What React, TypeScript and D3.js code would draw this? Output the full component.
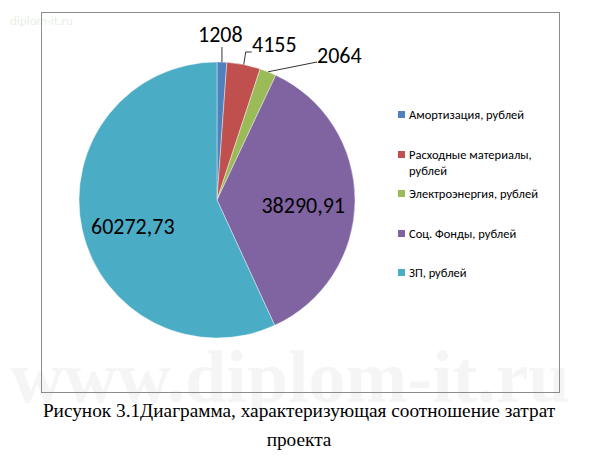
import * as d3 from "d3";
import { useEffect, useRef } from "react";

const categories = [
  "Амортизация, рублей",
  "Расходные материалы, рублей",
  "Электроэнергия, рублей",
  "Соц. Фонды, рублей",
  "ЗП, рублей",
];
const values = [1208, 4155, 2064, 38290.91, 60272.73];
const valueLabels = ["1208", "4155", "2064", "38290,91", "60272,73"];
const colors = ["#4f81bd", "#c0504d", "#9bbb59", "#8064a2", "#4bacc6"];
const legendLines = [
  ["Амортизация, рублей"],
  ["Расходные материалы,", "рублей"],
  ["Электроэнергия,  рублей"],
  ["Соц. Фонды, рублей"],
  ["ЗП, рублей"],
];
const caption = [
  "Рисунок 3.1Диаграмма, характеризующая соотношение затрат",
  "проекта",
];

export default function App() {
  const ref = useRef<SVGSVGElement | null>(null);

  useEffect(() => {
    const width = 591;
    const height = 460;
    const svg = d3.select(ref.current);
    svg.selectAll("*").remove();
    svg.attr("width", width).attr("height", height);

    svg.append("rect").attr("width", width).attr("height", height).attr("fill", "#fff");

    // watermarks
    svg
      .append("text")
      .attr("x", 10)
      .attr("y", 25)
      .text("diplom-it.ru")
      .style("font-family", "Calibri, 'Open Sans', sans-serif")
      .style("font-size", "13px")
      .attr("fill", "#e8f0e4");
    svg
      .append("text")
      .attr("x", 290)
      .attr("y", 402)
      .attr("text-anchor", "middle")
      .text("www.diplom-it.ru")
      .style("font-family", "'Liberation Serif', serif")
      .style("font-size", "74px")
      .style("font-weight", "bold")
      .attr("fill", "#f5f5f5");

    // chart frame
    svg
      .append("rect")
      .attr("x", 41.5)
      .attr("y", 12.5)
      .attr("width", 518)
      .attr("height", 380)
      .attr("fill", "none")
      .attr("stroke", "#8c8c8c")
      .attr("stroke-width", 1);

    const cx = 217;
    const cy = 200;
    const r = 138;

    const pie = d3
      .pie<number>()
      .sort(null)
      .value((d) => d)
      .startAngle(0)
      .endAngle(2 * Math.PI);
    const arcs = pie(values);
    const arc = d3.arc<d3.PieArcDatum<number>>().innerRadius(0).outerRadius(r);

    const g = svg.append("g").attr("transform", `translate(${cx},${cy})`);
    g.selectAll("path")
      .data(arcs)
      .enter()
      .append("path")
      .attr("d", arc)
      .attr("fill", (_, i) => colors[i])
      .attr("stroke", "#fff")
      .attr("stroke-width", 0.4);

    const font = "Calibri, Carlito, 'Open Sans', sans-serif";

    // outside labels for small slices with leader lines
    const pt = (a: number, rad: number) => [Math.sin(a) * rad, -Math.cos(a) * rad];
    const outside = [
      { i: 0, pts: (p: number[]) => [p, [p[0], -153]], tx: -19, ty: -158 },
      { i: 1, pts: (p: number[]) => [p, [p[0] + 2, -148], [p[0] + 8, -148]], tx: 35, ty: -148 },
      { i: 2, pts: (p: number[]) => [p, [100, -138]], tx: 100, ty: -137 },
    ];
    outside.forEach((o) => {
      const a = (arcs[o.i].startAngle + arcs[o.i].endAngle) / 2;
      const p = pt(a, r);
      g.append("path")
        .attr("d", d3.line()(o.pts(p) as [number, number][]))
        .attr("fill", "none")
        .attr("stroke", "#000")
        .attr("stroke-width", 0.8);
      g.append("text")
        .attr("x", o.tx)
        .attr("y", o.ty)
        .text(valueLabels[o.i])
        .style("font-family", font)
        .style("font-size", "22px")
        .attr("fill", "#000");
    });

    // inside labels, placed along each slice's centroid direction
    const inside = [
      { i: 3, fx: 1.25, fy: 1, dy: 5 },
      { i: 4, fx: 1.25, fy: 1.8, dy: 0 },
    ];
    inside.forEach((o) => {
      const c = arc.centroid(arcs[o.i]);
      g.append("text")
        .attr("x", c[0] * o.fx)
        .attr("y", c[1] * o.fy + o.dy)
        .attr("dy", "0.35em")
        .attr("text-anchor", "middle")
        .text(valueLabels[o.i])
        .style("font-family", font)
        .style("font-size", "22px")
        .attr("fill", "#000");
    });

    // legend
    const legendY = [115, 155, 194, 234, 273];
    const legend = svg.append("g");
    categories.forEach((_, i) => {
      legend
        .append("rect")
        .attr("x", 398)
        .attr("y", legendY[i] - 4)
        .attr("width", 7)
        .attr("height", 7)
        .attr("fill", colors[i]);
      legendLines[i].forEach((line, j) => {
        legend
          .append("text")
          .attr("x", 409)
          .attr("y", legendY[i] + j * 16)
          .attr("dy", "0.35em")
          .text(line)
          .style("font-family", font)
          .style("font-size", "12.5px")
          .attr("fill", "#000");
      });
    });

    // caption
    caption.forEach((line, j) => {
      svg
        .append("text")
        .attr("x", 299)
        .attr("y", 417 + j * 29)
        .attr("text-anchor", "middle")
        .text(line)
        .style("font-family", "'Times New Roman', 'Liberation Serif', serif")
        .style("font-size", "19.3px")
        .attr("fill", "#000");
    });
  }, []);

  return (
    <svg ref={ref} style={{ position: "absolute", left: 0, top: 0 }}>
      <title>Pie chart</title>
    </svg>
  );
}
